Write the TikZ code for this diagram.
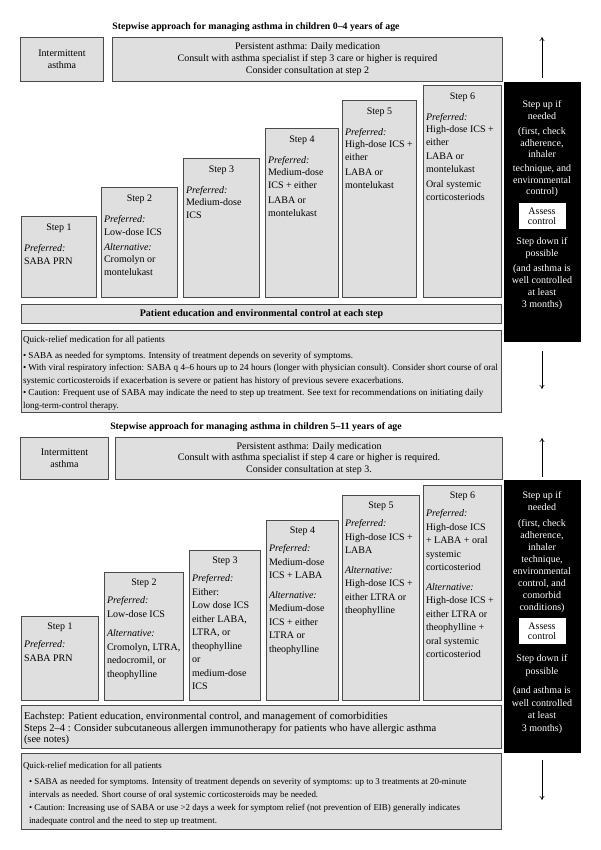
\documentclass[tikz,border=0pt]{standalone}
\usepackage{fontspec}
\setmainfont{Liberation Serif}
\usepackage{tikz}
\usetikzlibrary{arrows.meta,positioning}
\definecolor{boxgray}{RGB}{223,223,223}
\definecolor{edgegray}{RGB}{75,75,75}
\newcommand{\pref}{\textit{Preferred:}}
\newcommand{\altn}{\textit{Alternative:}}
% width, height, title, body
\newcommand{\upcell}[4]{\parbox[t][#2][t]{#1}{\centering\rule{0pt}{14pt}#3\par\vspace{8.5pt}\raggedright #4}}
\newcommand{\lowcell}[4]{\parbox[t][#2][t]{#1}{\centering\rule{0pt}{13pt}#3\par\vspace{4.5pt}\raggedright #4}}
\tikzset{
  panel/.style={draw=edgegray, line width=1pt, fill=boxgray, anchor=north west, align=center,
                inner sep=0pt, font=\fontsize{10}{12}\selectfont},
  stepbox/.style={draw=edgegray, line width=1pt, fill=boxgray, anchor=north west,
                  inner xsep=2.5pt, inner ysep=0pt, font=\fontsize{10}{12.5}\selectfont},
  stepboxb/.style={stepbox, font=\fontsize{10}{13.5}\selectfont},
  notebox/.style={stepbox, inner xsep=1.5pt, font=\fontsize{9.1}{12.5}\selectfont},
  ctlbox/.style={fill=black, draw=black, anchor=north west, inner sep=0pt},
  ctltext/.style={text=white, align=center, inner sep=0pt, font=\fontsize{10}{11.5}\selectfont},
  assess/.style={fill=white, minimum width=47pt, minimum height=26pt, align=center,
                 inner sep=0pt, font=\fontsize{10}{10.5}\selectfont},
  heading/.style={font=\fontsize{9.8}{11}\selectfont\bfseries, inner sep=0pt},
  arrow/.style={-{To[length=4pt,width=5pt]}, line width=0.6pt},
}
\begin{document}
\begin{tikzpicture}[x=1pt, y=-1pt]
\fill[white] (0,0) rectangle (600,850);
\useasboundingbox (0,0) rectangle (600,850);

% children 0-4 years
\node[heading] (t1) at (256,27) {Stepwise approach for managing asthma in children 0--4 years of age};
\node[panel, minimum width=83pt, minimum height=44pt] (int1) at (20,37) {Intermittent\\asthma};
\node[panel, minimum width=390pt, minimum height=44pt] (per1) at (112,37)
  {Persistent asthma: Daily medication\\Consult with asthma specialist if step 3 care or higher is required\\Consider consultation at step 2};

\node[stepbox] (a1) at (21,216) {\upcell{70pt}{81pt}{Step 1}{\pref\\SABA PRN}};
\node[stepbox] (a2) at (101,187) {\upcell{71pt}{110pt}{Step 2}{\pref\\Low-dose ICS\\[3pt]\altn\\Cromolyn or\\montelukast}};
\node[stepbox] (a3) at (183,158) {\upcell{71pt}{139pt}{Step 3}{\pref\\Medium-dose\\ICS}};
\node[stepbox] (a4) at (265,128) {\upcell{68pt}{169pt}{Step 4}{\pref\\Medium-dose\\ICS + either\\[3pt]LABA or\\montelukast}};
\node[stepbox] (a5) at (342,100) {\upcell{69pt}{197pt}{Step 5}{\pref\\High-dose ICS +\\either\\[3pt]LABA or\\montelukast}};
\node[stepbox] (a6) at (423,85) {\upcell{73pt}{212pt}{Step 6}{\pref\\High-dose ICS +\\either\\[2pt]LABA or\\montelukast\\[3pt]Oral systemic\\corticosteriods}};

\node[panel, minimum width=480pt, minimum height=19pt, font=\fontsize{10}{12}\selectfont\bfseries] (edu1) at (21,304)
  {Patient education and environmental control at each step};
\node[notebox] (qr1) at (21,330) {\parbox[t][82pt][t]{477pt}{\raggedright\rule{0pt}{12pt}Quick-relief medication for all patients\\[3pt]
  \textbullet\ SABA as needed for symptoms. Intensity of treatment depends on severity of symptoms.\\
  \textbullet\ With viral respiratory infection: SABA q 4--6 hours up to 24 hours (longer with physician consult). Consider short course of oral\\
  systemic corticosteroids if exacerbation is severe or patient has history of previous severe exacerbations.\\
  \textbullet\ Caution: Frequent use of SABA may indicate the need to step up treatment. See text for recommendations on initiating daily\\
  long-term-control therapy.}};

\node[ctlbox, minimum width=76pt, minimum height=259pt] (ctl1) at (504,82) {};
\node[ctltext, anchor=north] (up1) at (542,100.5) {Step up if\\needed\\[4pt](first, check\\adherence,\\inhaler\\[2.5pt]technique, and\\environmental\\control)};
\node[assess, below=6pt of up1] (asc1) {Assess\\control};
\node[ctltext, below=7.5pt of asc1, font=\fontsize{10}{12}\selectfont] (dn1) {Step down if\\possible\\[3pt](and asthma is\\well controlled\\at least\\3 months)};

% children 5-11 years
\node[heading] (t2) at (256,427) {Stepwise approach for managing asthma in children 5--11 years of age};
\node[panel, minimum width=88pt, minimum height=42pt] (int2) at (20,437) {Intermittent\\asthma};
\node[panel, minimum width=387pt, minimum height=42pt, font=\fontsize{10}{11.5}\selectfont] (per2) at (115,437)
  {Persistent asthma: Daily medication\\Consult with asthma specialist if step 4 care or higher is required.\\Consider consultation at step 3.};

\node[stepboxb] (b1) at (21,616) {\lowcell{72pt}{84pt}{Step 1}{\pref\\SABA PRN}};
\node[stepboxb] (b2) at (104,572) {\lowcell{74pt}{128pt}{Step 2}{\pref\\Low-dose ICS\\[6pt]\altn\\Cromolyn, LTRA,\\nedocromil, or\\theophylline}};
\node[stepboxb] (b3) at (189,550) {\lowcell{66pt}{150pt}{Step 3}{\pref\\Either:\\Low dose ICS\\either LABA,\\LTRA, or\\theophylline\\or\\medium-dose\\ICS}};
\node[stepboxb] (b4) at (266,520) {\lowcell{67pt}{180pt}{Step 4}{\pref\\Medium-dose\\ICS + LABA\\[6pt]\altn\\Medium-dose\\ICS + either\\LTRA or\\theophylline}};
\node[stepboxb] (b5) at (342,495) {\lowcell{72pt}{205pt}{Step 5}{\pref\\High-dose ICS +\\LABA\\[6pt]\altn\\High-dose ICS +\\either LTRA or\\theophylline}};
\node[stepboxb] (b6) at (423,485) {\lowcell{73pt}{215pt}{Step 6}{\pref\\High-dose ICS\\+ LABA + oral\\systemic\\corticosteriod\\[6pt]\altn\\High-dose ICS +\\either LTRA or\\theophylline +\\oral systemic\\corticosteriod}};

\node[stepbox, font=\fontsize{10.5}{11.5}\selectfont] (edu2) at (21,705) {\parbox[t][43pt][t]{475pt}{\raggedright\rule{0pt}{14pt}Eachstep: Patient education, environmental control, and management of comorbidities\\
  Steps 2--4 : Consider subcutaneous allergen immunotherapy for patients who have allergic asthma\\(see notes)}};
\node[notebox, font=\fontsize{8.9}{13}\selectfont] (qr2) at (21,753) {\parbox[t][76pt][t]{477pt}{\raggedright\rule{0pt}{14.5pt}Quick-relief medication for all patients\\[3pt]
  \hspace*{6pt}\textbullet\ SABA as needed for symptoms. Intensity of treatment depends on severity of symptoms: up to 3 treatments at 20-minute\\
  \hspace*{6pt}intervals as needed. Short course of oral systemic corticosteroids may be needed.\\
  \hspace*{6pt}\textbullet\ Caution: Increasing use of SABA or use \textgreater 2 days a week for symptom relief (not prevention of EIB) generally indicates\\
  \hspace*{6pt}inadequate control and the need to step up treatment.}};

\node[ctlbox, minimum width=76pt, minimum height=272pt] (ctl2) at (504,480) {};
\node[ctltext, anchor=north, font=\fontsize{10}{12}\selectfont] (up2) at (542,491.5) {Step up if\\needed\\[4pt](first, check\\adherence,\\inhaler\\technique,\\environmental\\control, and\\comorbid\\conditions)};
\node[assess, below=5pt of up2] (asc2) {Assess\\control};
\node[ctltext, below=10pt of asc2, font=\fontsize{10}{12.5}\selectfont] (dn2) {Step down if\\possible\\[7pt](and asthma is\\well controlled\\at least\\3 months)};

\coordinate (upB1) at (542,78);  \coordinate (upT1) at (542,37);
\coordinate (dnT1) at (542,351); \coordinate (dnB1) at (542,389);
\coordinate (upB2) at (542,477); \coordinate (upT2) at (542,438);
\coordinate (dnT2) at (542,760); \coordinate (dnB2) at (542,800);
\foreach \a/\b in {upB1/upT1, dnT1/dnB1, upB2/upT2, dnT2/dnB2}
  \draw[arrow] (\a) -- (\b);
\end{tikzpicture}
\end{document}
